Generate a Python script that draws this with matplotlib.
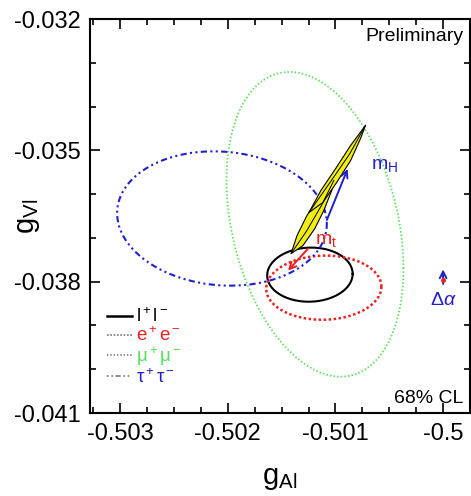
import numpy as np
import matplotlib
matplotlib.use('Agg')
import matplotlib.pyplot as plt
from matplotlib.lines import Line2D

plt.rcParams['font.family'] = ['Liberation Sans', 'DejaVu Sans']
plt.rcParams['mathtext.fontset'] = 'custom'
plt.rcParams['mathtext.rm'] = 'Liberation Sans'
plt.rcParams['mathtext.it'] = 'Liberation Sans:italic'
plt.rcParams['axes.unicode_minus'] = False

# 68% CL contours: centre (gA, gV), half widths, correlation
channels = ['ll', 'ee', 'mumu', 'tautau']
labels = [r'$\mathrm{l^+l^-}$', r'$\mathrm{e^+e^-}$', r'$\mathrm{\mu^+\mu^-}$', r'$\mathrm{\tau^+\tau^-}$']
center_gA = [-0.501237, -0.501108, -0.50119, -0.502054]
center_gV = [-0.037840, -0.038137, -0.03669, -0.036557]
sigma_gA = [0.000397, 0.000535, 0.000822, 0.000974]
sigma_gV = [0.000618, 0.000733, 0.00348, 0.001534]
rho = [0.03, 0.03, -0.29, -0.08]

# SM prediction band (two lens shaped pieces)
band_upper_gA = [-0.501246, -0.501135, -0.500997, -0.500858, -0.500720, -0.500766, -0.500858, -0.500988, -0.501117]
band_upper_gV = [-0.036420, -0.035916, -0.035412, -0.034885, -0.034427, -0.034725, -0.035229, -0.035733, -0.036191]
band_lower_gA = [-0.501412, -0.501357, -0.501265, -0.501154, -0.501015, -0.501034, -0.501108, -0.501191, -0.501302]
band_lower_gV = [-0.037359, -0.036947, -0.036489, -0.036076, -0.035687, -0.035916, -0.036374, -0.036786, -0.037176]
band_mid_upper_gA = [-0.501246, -0.501050, -0.500870, -0.500720]
band_mid_upper_gV = [-0.036420, -0.035733, -0.035090, -0.034427]
band_mid_lower_gA = [-0.501412, -0.501270, -0.501130, -0.501015]
band_mid_lower_gV = [-0.037359, -0.036850, -0.036260, -0.035687]

# arrows: (start gA, start gV, end gA, end gV)
arrow_mH = (-0.501089, -0.036649, -0.500877, -0.035366)
arrow_mt = (-0.501237, -0.037198, -0.501458, -0.037794)
arrow_da = (-0.500000, -0.038115, -0.500000, -0.037656)
point_da = (-0.500000, -0.037954)

colors = ['black', '#ee2020', '#55e055', '#2020cc']
styles = ['-', (0, (1, 1)), (0, (0.8, 1.2)), (0, (1, 1.6, 1, 1.6, 3, 1.6))]
widths = [1.5, 1.8, 1.3, 1.5]

fig = plt.figure(figsize=(4.71, 4.96), dpi=100)
ax = fig.add_axes([90 / 471, 83 / 496, 380 / 471, 394 / 496])

t = np.linspace(0, 2 * np.pi, 500)
for i in range(len(channels)):
    x = center_gA[i] + sigma_gA[i] * np.cos(t)
    y = center_gV[i] + sigma_gV[i] * (rho[i] * np.cos(t) + np.sqrt(1 - rho[i] ** 2) * np.sin(t))
    ax.plot(x, y, color=colors[i], ls=styles[i], lw=widths[i], zorder=2)

ax.fill(band_lower_gA, band_lower_gV, facecolor='#f2ee10', edgecolor='black', lw=0.8, zorder=3)
ax.fill(band_upper_gA, band_upper_gV, facecolor='#f2ee10', edgecolor='black', lw=0.8, zorder=3)
ax.plot(band_mid_upper_gA, band_mid_upper_gV, color='black', lw=0.7, zorder=4)
ax.plot(band_mid_lower_gA, band_mid_lower_gV, color='black', lw=0.7, zorder=4)

def draw_arrow(a, col):
    ax.annotate('', xy=(a[2], a[3]), xytext=(a[0], a[1]),
                arrowprops=dict(arrowstyle='->', color=col, lw=1.4, mutation_scale=12), zorder=5)

draw_arrow(arrow_mH, '#2020cc')
draw_arrow(arrow_mt, '#ee2020')
draw_arrow(arrow_da, '#2020cc')
ax.plot(point_da[0], point_da[1], 'o', color='#ee2020', ms=2.5, zorder=6)

ax.text(-0.500674, -0.035343, r'$\mathrm{m_H}$', color='#2020cc', fontsize=14, ha='left', va='center')
ax.text(-0.501190, -0.037060, r'$\mathrm{m_t}$', color='#ee2020', fontsize=14, ha='left', va='center')
ax.text(-0.500000, -0.038435, r'$\Delta\alpha$', color='#2020cc', fontsize=14, ha='center', va='center')

ax.text(0.982, 0.955, 'Preliminary', transform=ax.transAxes, fontsize=14, ha='right', va='center')
ax.text(0.982, 0.038, '68% CL', transform=ax.transAxes, fontsize=14, ha='right', va='center')

handles = [Line2D([], [], color='black', lw=1.8, ls='-')]
for i in range(1, 4):
    handles.append(Line2D([], [], color='#777777', lw=1.2, ls=styles[i]))
leg = ax.legend(handles, labels, loc='upper left', bbox_to_anchor=(0.0, 0.31), frameon=False,
                fontsize=13.5, handlelength=1.35, handletextpad=0.2, labelspacing=0.0,
                labelcolor=colors)

ax.set_xlim(-0.50328, -0.49977)
ax.set_ylim(-0.041, -0.032)
ax.set_xticks([-0.503, -0.502, -0.501, -0.5])
ax.set_xticklabels(['-0.503', '-0.502', '-0.501', '-0.5'])
ax.set_yticks([-0.041, -0.038, -0.035, -0.032])
ax.set_yticklabels(['-0.041', '-0.038', '-0.035', '-0.032'])
ax.set_xticks(np.arange(-0.50325, -0.4997, 0.00025), minor=True)
ax.set_yticks(np.arange(-0.041, -0.0319, 0.001), minor=True)
ax.tick_params(which='both', direction='in', top=True, right=True, labelsize=17, width=1.2)
ax.tick_params(which='major', length=7, pad=7)
ax.tick_params(which='minor', length=4)
for s in ax.spines.values():
    s.set_linewidth(1.5)

ax.set_xlabel(r'$\mathrm{g_{Al}}$', fontsize=21, labelpad=14)
ax.set_ylabel(r'$\mathrm{g_{Vl}}$', fontsize=21)
ax.yaxis.set_label_coords(-0.126, 0.5)

plt.savefig('out.png', dpi=100)
